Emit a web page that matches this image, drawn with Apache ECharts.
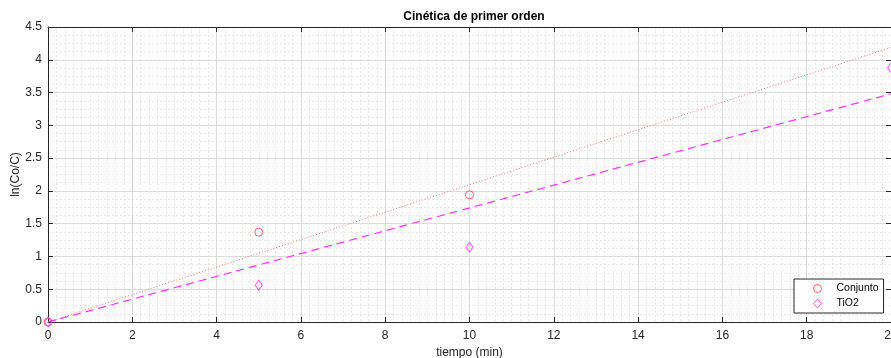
<!DOCTYPE html>
<html>
<head>
<meta charset="utf-8">
<script src="https://cdn.jsdelivr.net/npm/echarts@6/dist/echarts.min.js"></script>
<style>
  html, body { margin: 0; padding: 0; background: #fff; }
  #chart { width: 891px; height: 358px; }
</style>
</head>
<body>
<div id="chart"></div>
<script>
// measured points
const conjuntoData = [[0, 0], [5, 1.37], [10, 1.94]];
const tio2Data = [[0, 0], [5, 0.56], [10, 1.14], [20, 3.88]];
// fitted lines (first order)
const conjuntoFit = [[0, 0], [20, 4.19]];
const tio2Fit = [[0, 0], [20, 3.48]];

const axisColor = '#262626';
const font = 'Liberation Sans, Arial, Helvetica, sans-serif';

const chart = echarts.init(document.getElementById('chart'));

const baseX = {
    type: 'value',
    min: 0,
    max: 20,
    interval: 2,
    axisLine: { show: true, onZero: false, lineStyle: { color: axisColor, width: 1 } },
    axisTick: { show: true, inside: true, length: 5, lineStyle: { color: axisColor } },
    minorTick: { show: false, splitNumber: 10 },
    splitLine: { show: true, lineStyle: { color: '#dadada', width: 1 } },
    minorSplitLine: { show: true, lineStyle: { color: '#e8e8e8', type: [2, 2], width: 1 } }
};
const baseY = {
    type: 'value',
    min: 0,
    max: 4.5,
    interval: 0.5,
    axisLine: { show: true, onZero: false, lineStyle: { color: axisColor, width: 1 } },
    axisTick: { show: true, inside: true, length: 5, lineStyle: { color: axisColor } },
    minorTick: { show: false, splitNumber: 4 },
    splitLine: { show: true, lineStyle: { color: '#dadada', width: 1 } },
    minorSplitLine: { show: true, lineStyle: { color: '#e8e8e8', type: [2, 2], width: 1 } }
};

chart.setOption({
    animation: false,
    backgroundColor: '#fff',
    title: {
        text: 'Cinética de primer orden',
        left: 469,
        textAlign: 'center',
        top: 6,
        textStyle: { fontFamily: font, fontSize: 12, fontWeight: 'bold', color: '#000' }
    },
    grid: { left: 48, right: 0, top: 27, bottom: 36, containLabel: false, outerBoundsMode: 'none' },
    legend: {
        orient: 'vertical',
        left: 794,
        top: 279,
        padding: [4, 5, 4, 19],
        itemGap: 4,
        itemWidth: 8,
        itemHeight: 9,
        borderColor: axisColor,
        borderWidth: 1,
        backgroundColor: '#fff',
        itemStyle: { borderWidth: 1 },
        data: ['Conjunto', 'TiO2'],
        textStyle: { fontFamily: font, fontSize: 10.5, color: '#000', padding: [0, 0, 0, 10] }
    },
    xAxis: [
        Object.assign({}, baseX, {
            position: 'bottom',
            name: 'tiempo (min)',
            nameLocation: 'middle',
            nameGap: 25,
            nameTextStyle: { fontFamily: font, fontSize: 12, color: axisColor },
            axisLabel: { fontFamily: font, fontSize: 12, color: axisColor, margin: 8 }
        }),
        Object.assign({}, baseX, {
            position: 'top',
            axisLabel: { show: false },
            splitLine: { show: false },
            minorSplitLine: { show: false }
        })
    ],
    yAxis: [
        Object.assign({}, baseY, {
            position: 'left',
            name: 'ln(Co/C)',
            nameLocation: 'middle',
            nameGap: 26,
            nameMoveOverlap: false,
            nameTextStyle: { fontFamily: font, fontSize: 12, color: axisColor },
            axisLabel: { fontFamily: font, fontSize: 12, color: axisColor, margin: 6 }
        }),
        Object.assign({}, baseY, {
            position: 'right',
            axisLabel: { show: false },
            splitLine: { show: false },
            minorSplitLine: { show: false }
        })
    ],
    series: [
        {
            name: 'Conjunto fit',
            type: 'line',
            data: conjuntoFit,
            showSymbol: false,
            silent: true,
            lineStyle: { color: '#ff7070', width: 1, type: [1, 2] },
            z: 2
        },
        {
            name: 'TiO2 fit',
            type: 'line',
            data: tio2Fit,
            showSymbol: false,
            silent: true,
            lineStyle: { color: '#ff33ff', width: 1.2, type: [8, 5] },
            z: 2
        },
        {
            name: 'Conjunto',
            type: 'scatter',
            data: conjuntoData,
            symbol: 'circle',
            symbolSize: 8,
            itemStyle: { color: 'rgba(255,255,255,0)', borderColor: '#ff4040', borderWidth: 1 },
            z: 3
        },
        {
            name: 'TiO2',
            type: 'scatter',
            data: tio2Data,
            symbol: 'diamond',
            symbolSize: [7, 10],
            itemStyle: { color: 'rgba(255,255,255,0)', borderColor: '#ff33ff', borderWidth: 1 },
            z: 3
        }
    ]
});
</script>
</body>
</html>
